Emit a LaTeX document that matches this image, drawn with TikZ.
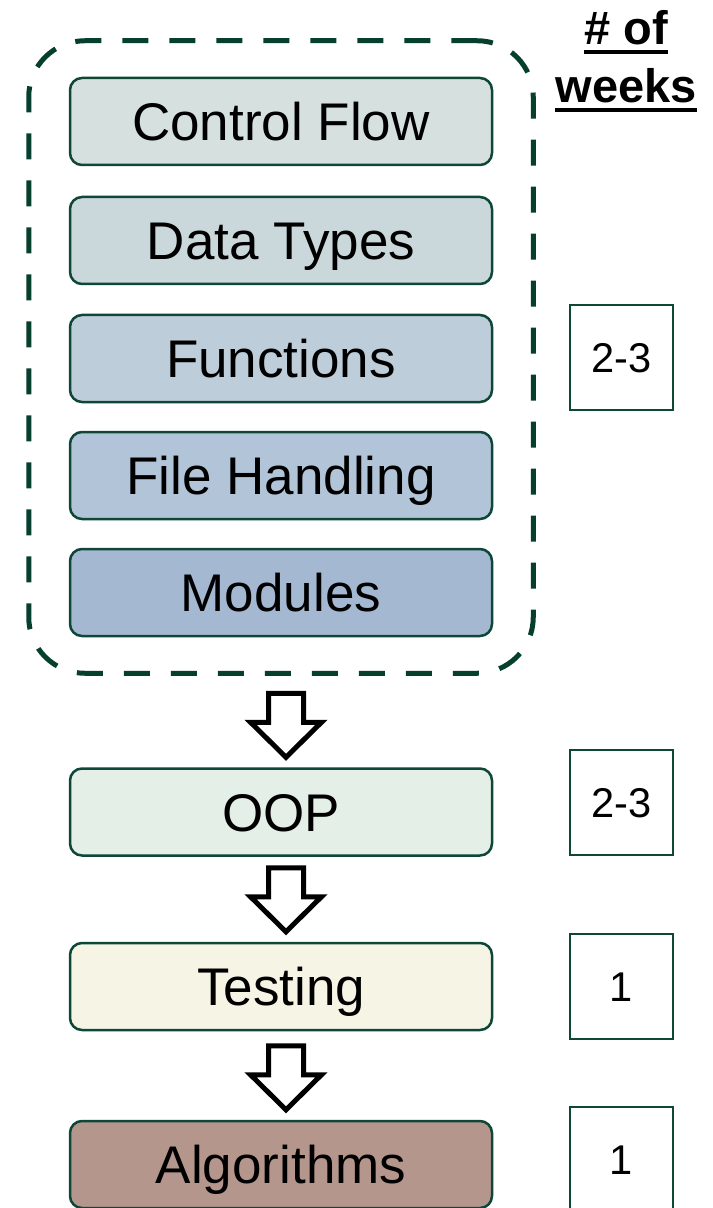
\documentclass[tikz,border=0pt]{standalone}
\usepackage{fontspec}
\setmainfont{Liberation Sans}
\usepackage{tikz}
\usetikzlibrary{fit, positioning}
\definecolor{edgegreen}{HTML}{0E4637}
\definecolor{dashgreen}{HTML}{063F2E}
\definecolor{cflow}{HTML}{D6E0DF}
\definecolor{dtypes}{HTML}{CAD8DC}
\definecolor{funcs}{HTML}{BDCDD9}
\definecolor{files}{HTML}{B2C4D7}
\definecolor{mods}{HTML}{A4B8D2}
\definecolor{oopfill}{HTML}{E4EFE7}
\definecolor{testfill}{HTML}{F5F4E5}
\definecolor{algofill}{HTML}{B5968D}
\newcommand{\ulbox}[1]{\setbox0\hbox{#1}\rlap{\rule[-4.5pt]{\wd0}{2pt}}\box0}

\begin{document}
\begin{tikzpicture}[x=0.5pt, y=-0.5pt,
	topic/.style={draw=edgegreen, line width=1.25pt, rounded corners=6pt, minimum width=211pt, minimum height=43.5pt, text height=19pt, text depth=0pt, font=\fontsize{26.5}{30}\selectfont},
	weekbox/.style={draw=edgegreen, line width=1.25pt, fill=white, minimum width=51.5pt, minimum height=52.5pt, text height=15pt, text depth=0pt, font=\fontsize{20.8}{24}\selectfont},
	wrapbox/.style={draw=dashgreen, line width=2.5pt, rounded corners=28pt, dash pattern=on 13pt off 10.5pt, inner xsep=20pt, inner ysep=18pt},
	hollowarrow/.pic={\draw [line width=2.5pt, line join=miter, fill=white] (0,0)--(-35.5,-35)--(-17.5,-35)--(-17.5,-64)--(17.5,-64)--(17.5,-35)--(35.5,-35)--cycle;}]
			\useasboundingbox (0,0) rectangle (712,1208);
			
			\node [topic, fill=cflow] (flow) at (281,121.5) {Control Flow};
			\node [topic, fill=dtypes] (types) at (281,240.5) {Data Types};
			\node [topic, fill=funcs] (functions) at (281,358.5) {Functions};
			\node [topic, fill=files] (handling) at (281,475.5) {File Handling};
			\node [topic, fill=mods] (modules) at (281,592.5) {Modules};
			\node [wrapbox, fit=(flow)(modules)] (basics) {};
			
			\node [topic, fill=oopfill] (oop) at (281,812) {OOP};
			\node [topic, fill=testfill] (testing) at (281,986.5) {Testing};
			\node [topic, fill=algofill] (algos) at (281,1164.5) {Algorithms};
			
			\foreach \t in {oop, testing, algos}{
				\path (\t.north) ++(5,-10) pic {hollowarrow};
			}
			
			\node [align=center, font=\fontsize{23.5}{29}\bfseries\selectfont] (weeks) at (626,61) {\ulbox{\# of}\\\ulbox{weeks}};
			\node [weekbox] (wbasics) at (621.5,357.5) {2-3};
			\node [weekbox] (woop) at (621.5,802.5) {2-3};
			\node [weekbox] (wtesting) at (621.5,986.5) {1};
			\node [weekbox] (walgos) at (621.5,1159.5) {1};
		\end{tikzpicture}
\end{document}
